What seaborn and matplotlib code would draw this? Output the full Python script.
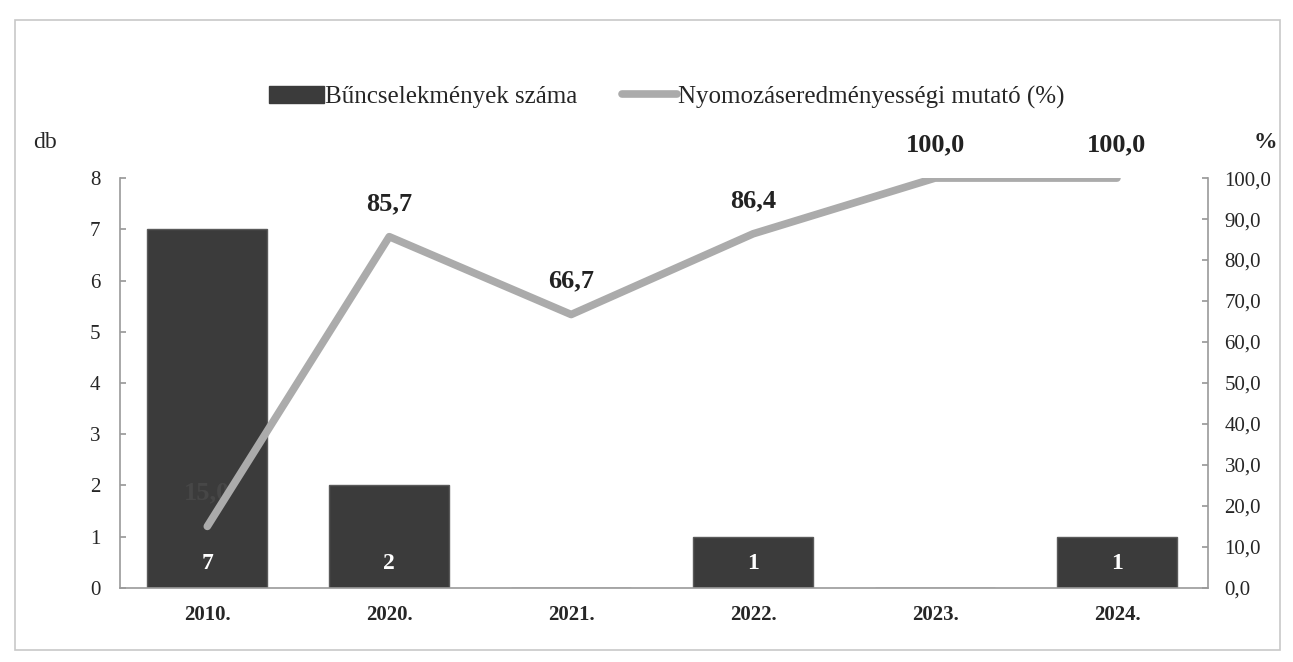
import matplotlib
matplotlib.use("Agg")
import numpy as np
import pandas as pd
import matplotlib.pyplot as plt
import seaborn as sns
from matplotlib.patches import Patch, Rectangle
from matplotlib.lines import Line2D

# -------------------------------
# Data
# -------------------------------
years = ["2010.", "2020.", "2021.", "2022.", "2023.", "2024."]
crimes = [7, 2, 0, 1, 0, 1]
rate = [15.0, 85.7, 66.7, 86.4, 100.0, 100.0]

bar_label = "Bűncselekmények száma"
line_label = "Nyomozáseredményességi mutató (%)"

bar_color = "#3b3b3b"
line_color = "#ababab"
axis_color = "#9a9a9a"

df = pd.DataFrame({"year": years, "crimes": crimes, "rate": rate, "pos": np.arange(len(years))})

sns.set_theme(style="white")
plt.rcParams["font.family"] = ["Liberation Serif", "DejaVu Serif"]

fig = plt.figure(figsize=(12.93, 6.62), dpi=100)
ax = fig.add_axes([0.0928, 0.112, 0.8414, 0.619])

sns.barplot(data=df, x="year", y="crimes", color=bar_color, saturation=1,
            width=0.66, ax=ax, edgecolor="#5a5a5a", linewidth=1)
ax.set_xlim(-0.48, 5.5)
ax.set_ylim(0, 8)
ax.set_yticks(range(0, 9))
ax.set_xlabel("")
ax.set_ylabel("")
ax.tick_params(axis="y", direction="in", length=4, color=axis_color, labelsize=15, pad=14)
ax.tick_params(axis="x", length=0, labelsize=15, pad=12)
for lab in ax.get_xticklabels():
    lab.set_fontweight("bold")
for side in ["top", "right"]:
    ax.spines[side].set_visible(False)
for side in ["left", "bottom"]:
    ax.spines[side].set_color(axis_color)
    ax.spines[side].set_linewidth(1.2)

# bar value labels (white, near bottom of bar)
for i, v in enumerate(crimes):
    if v > 0:
        ax.text(i, 0.47, str(v), ha="center", va="center", color="white",
                fontsize=17, fontweight="bold")

# secondary axis with the rate line
ax2 = ax.twinx()
sns.lineplot(data=df, x="pos", y="rate", color=line_color, linewidth=5.5, ax=ax2)
ax2.set_ylim(0, 100)
ax2.set_yticks(np.arange(0, 101, 10))
ax2.set_yticklabels([f"{t:.1f}".replace(".", ",") for t in np.arange(0, 101, 10)])
ax2.set_xlim(-0.48, 5.5)
ax2.set_xlabel("")
ax2.set_ylabel("")
ax2.tick_params(axis="y", direction="in", length=4, color=axis_color, labelsize=15, pad=12)
for side in ["top", "left", "bottom"]:
    ax2.spines[side].set_visible(False)
ax2.spines["right"].set_color(axis_color)
ax2.spines["right"].set_linewidth(1.2)

for i, v in enumerate(rate):
    txt = f"{v:.1f}".replace(".", ",")
    if i == 0:
        # this label sits on the dark bar and is barely visible in the original
        ax2.annotate(txt, (i, v), xytext=(0, 24), textcoords="offset points",
                     ha="center", va="center", fontsize=19, fontweight="bold",
                     color="#474747", zorder=1)
    else:
        ax2.annotate(txt, (i, v), xytext=(0, 24), textcoords="offset points",
                     ha="center", va="center", fontsize=19, fontweight="bold",
                     color="#222222")

# axis unit labels
fig.text(33 / 1293, 1 - 143 / 662, "db", fontsize=17, ha="left", va="center")
fig.text(1265 / 1293, 1 - 143 / 662, "%", fontsize=17, fontweight="bold", ha="center", va="center")

# legend
handles = [Patch(facecolor=bar_color, edgecolor=bar_color, label=bar_label),
           Line2D([0], [0], color=line_color, linewidth=5.5, label=line_label)]
fig.legend(handles=handles, loc="center left", bbox_to_anchor=(246 / 1293, 1 - 97 / 662),
           ncol=2, frameon=False, fontsize=18, handlelength=2.2, handletextpad=0.05,
           columnspacing=1.8)

# outer frame
fig.add_artist(Rectangle((15 / 1293, 12 / 662), 1265 / 1293, 630 / 662,
                         transform=fig.transFigure, fill=False,
                         edgecolor="#c8c8c8", linewidth=1.2))

fig.savefig("out.png", dpi=100)
